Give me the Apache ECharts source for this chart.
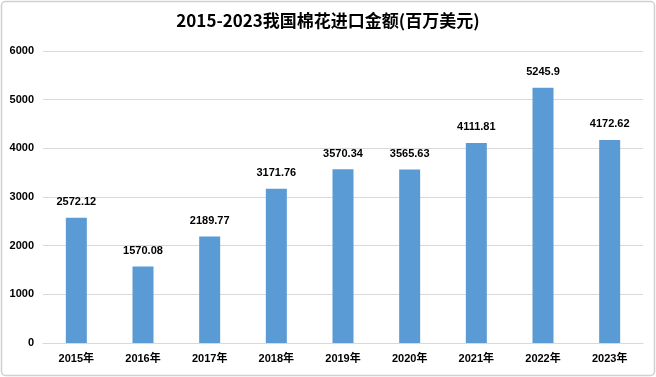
<!DOCTYPE html>
<html><head><meta charset="utf-8">
<script src="https://cdn.jsdelivr.net/npm/echarts@6/dist/echarts.min.js"></script>
<style>html,body{margin:0;padding:0;background:#fff}#c{width:656px;height:377px}</style>
</head><body><div id="c"></div>
<script>
const categories = ['2015年','2016年','2017年','2018年','2019年','2020年','2021年','2022年','2023年'];
const values = [2572.12, 1570.08, 2189.77, 3171.76, 3570.34, 3565.63, 4111.81, 5245.9, 4172.62];
const titleText = '2015-2023我国棉花进口金额(百万美元)';
const chart = echarts.init(document.getElementById('c'));
const font = '"Liberation Sans", "Noto Sans CJK SC", sans-serif';
chart.setOption({
  animation: false,
  backgroundColor: '#fff',
  title: { text: titleText, left: 'center', top: 7,
    textStyle: { fontSize: 17, fontWeight: 'bold', color: '#000', fontFamily: '"Noto Sans CJK SC", sans-serif' } },
  graphic: [{ type: 'rect', shape: { x: 1.5, y: 1.5, width: 653, height: 374, r: 4 },
    style: { fill: 'none', stroke: '#d0d0d0', lineWidth: 1.5 }, silent: true }],
  grid: { left: 43, right: 13, top: 51, bottom: 34 },
  xAxis: { type: 'category', data: categories,
    axisLine: { lineStyle: { color: '#d9d9d9' } }, axisTick: { show: false },
    axisLabel: { color: '#000', fontWeight: 'bold', fontSize: 11, fontFamily: font, margin: 10 } },
  yAxis: { type: 'value', min: 0, max: 6000, interval: 1000,
    axisLine: { show: false }, axisTick: { show: false },
    splitLine: { lineStyle: { color: '#d9d9d9' } },
    axisLabel: { color: '#000', fontWeight: 'bold', fontSize: 11, fontFamily: font, margin: 9,
      formatter: v => String(v) } },
  series: [{ type: 'bar', data: values, barWidth: 21,
    itemStyle: { color: '#5b9bd5' },
    label: { show: true, position: 'top', distance: 10, color: '#000', fontWeight: 'bold', fontSize: 11, fontFamily: font } }]
});
</script></body></html>
